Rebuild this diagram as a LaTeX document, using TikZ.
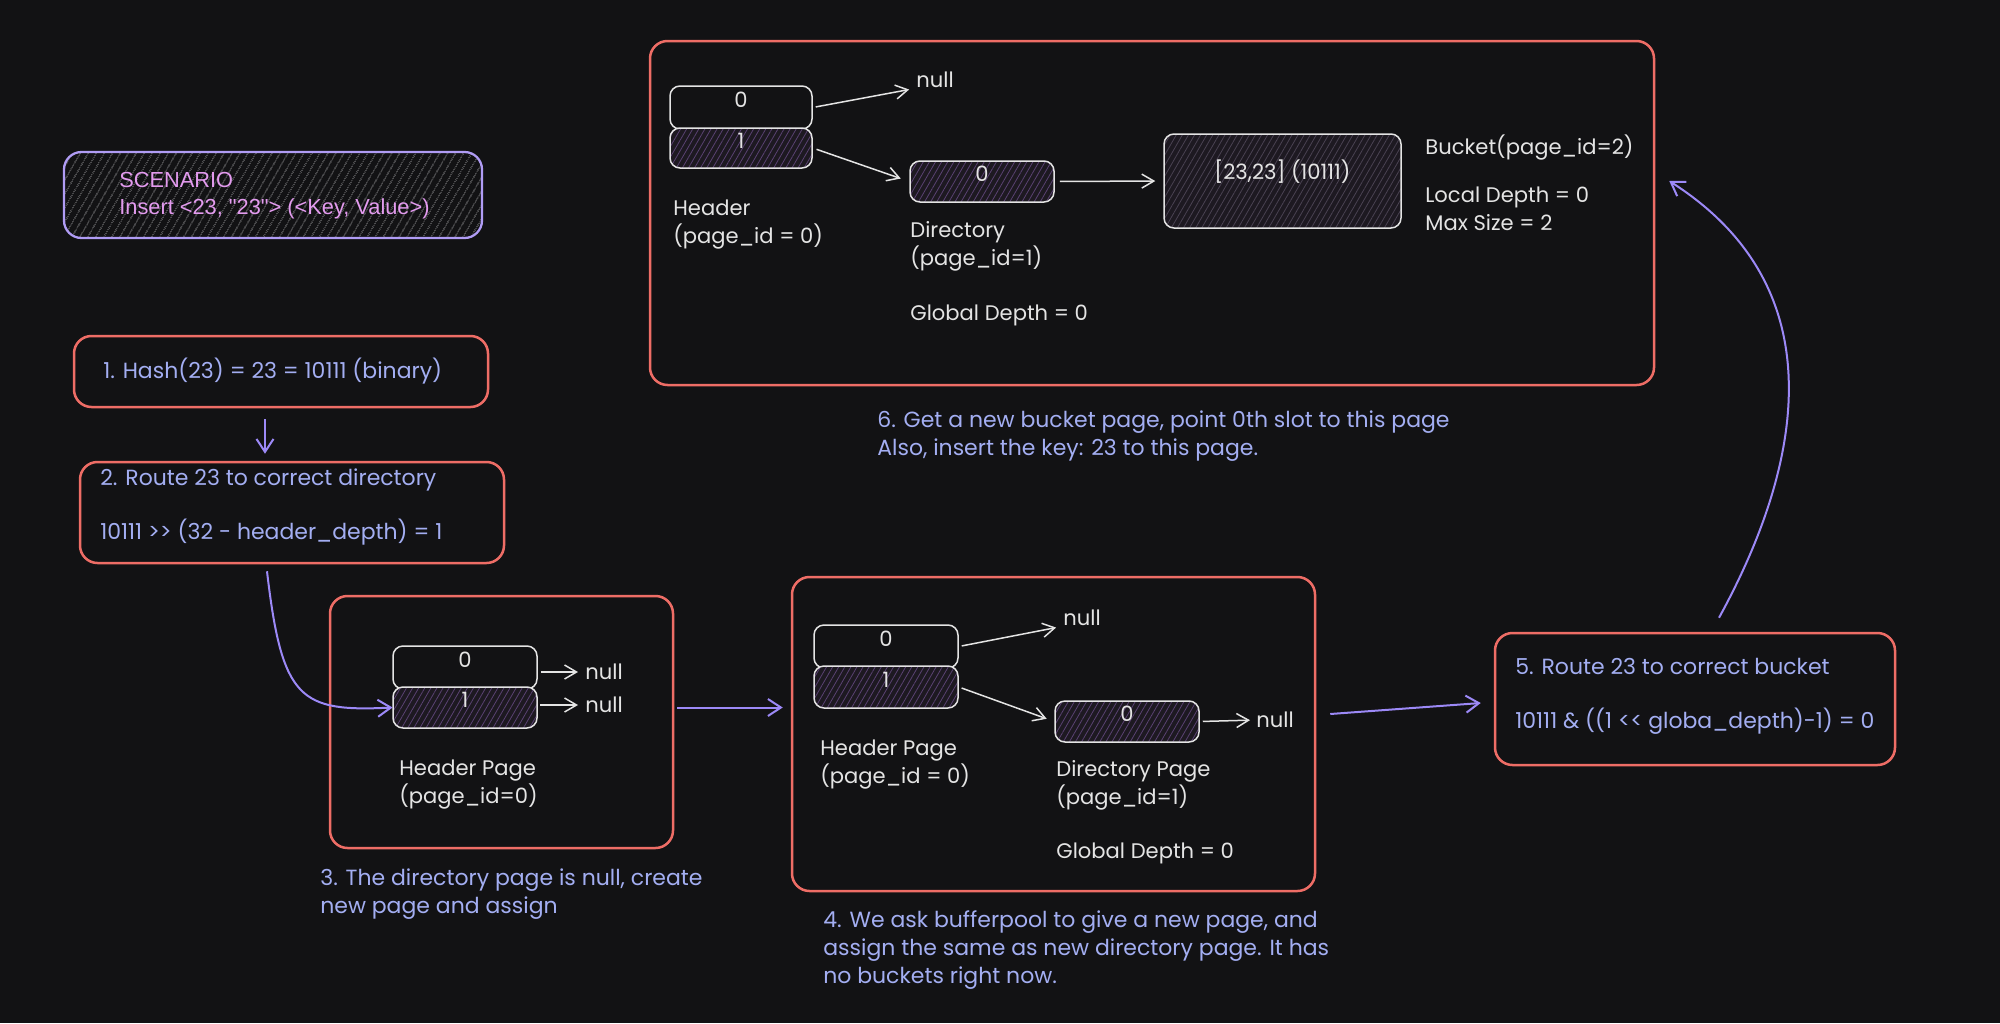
\documentclass[tikz,border=0pt]{standalone}
\usepackage{fontspec}
\setmainfont{Poppins}[Ligatures=TeXOff]
\newfontfamily\scenfont{Liberation Sans}
\usetikzlibrary{arrows.meta,patterns.meta,fit,calc}

\definecolor{bgc}{HTML}{121214}
\definecolor{redc}{HTML}{EE6D66}
\definecolor{violetc}{HTML}{9C89F7}
\definecolor{scenline}{HTML}{B09CF5}
\definecolor{scentxt}{HTML}{E39BEF}
\definecolor{bluec}{HTML}{A3AEF2}
\definecolor{whitec}{HTML}{E4E4E4}
\definecolor{cellbg}{HTML}{1D1921}
\definecolor{hatchc}{HTML}{5A4272}
\definecolor{bkhatch}{HTML}{4A4252}
\definecolor{scenhatch}{HTML}{1F1F22}

\begin{document}
\begin{tikzpicture}[x=0.2mm, y=-0.2mm, font={\fontsize{12}{15.9}\selectfont},
    redbox/.style={draw=redc, line width=0.5mm, rounded corners=3.5mm, inner sep=0pt},
    scenbox/.style={draw=scenline, line width=0.45mm, rounded corners=3.5mm, inner sep=0pt,
        preaction={fill=bgc}, pattern={Lines[angle=60,distance=4pt,line width=0.4pt]}, pattern color=scenhatch},
    cell/.style={draw=whitec, line width=0.3mm, rounded corners=2mm, inner sep=0pt, text=whitec},
    hatched/.style={cell, preaction={fill=cellbg}, pattern={Lines[angle=60,distance=3pt,line width=0.45pt]}, pattern color=hatchc},
    note/.style={text=bluec, anchor=west, align=left, inner sep=0pt, font={\fontsize{12.5}{15.9}\selectfont}},
    lbl/.style={text=whitec, anchor=west, align=left, inner sep=0pt},
    flow/.style={draw=violetc, line width=0.4mm, -{Straight Barb[length=2.6mm,width=3.4mm]}},
    link/.style={draw=whitec, line width=0.3mm, -{Straight Barb[length=2.4mm,width=2.8mm]}}]

    \def\gap{14.8pt}

    \fill[bgc] (0,0) rectangle (2000,1023);
    \useasboundingbox (0,0) rectangle (2000,1023);

    % scenario
    \node[scenbox, fit={(64,152) (482,238)}] (scen) {};
    \node[text=scentxt, anchor=west, align=left, inner sep=0pt, font={\scenfont\fontsize{12.4}{15.4}\selectfont}]
        (scenlbl) at (119,196) {SCENARIO\\Insert <23, "23"> (<Key, Value>)};

    % steps 1 and 2
    \node[redbox, fit={(74,336) (488,407)}] (b1) {};
    \node[note] (s1) at (103,371) {1. Hash(23) = 23 = 10111 (binary)};
    \node[redbox, fit={(80,462) (504,563)}] (b2) {};
    \node[note] (s2) at (100,507) {2. Route 23 to correct directory\\[\gap]10111 >> (32 - header\_depth) = 1};

    % step 3 box
    \node[redbox, fit={(330,596) (673,848)}] (b3) {};
    \node[cell, fit={(393,646) (537,689)}] (mh0) {0};
    \node[hatched, fit={(393,687) (537,728)}] (mh1) {1};
    \node[lbl] (mnull0) at (585,672) {null};
    \node[lbl] (mnull1) at (585,705) {null};
    \node[lbl] (mhdr) at (399,785) {Header Page\\(page\_id=0)};
    \node[note] (s3) at (320,894) {3. The directory page is null, create\\new page and assign};

    \draw[link, shorten <=0.6mm, shorten >=1.4mm] (mh0.east |- mnull0.west) -- (mnull0.west);
    \draw[link, shorten <=0.6mm, shorten >=1.4mm] (mh1.east |- mnull1.west) -- (mnull1.west);

    % step 4 box
    \node[redbox, fit={(792,577) (1315,891)}] (b4) {};
    \node[cell, fit={(814,625) (958,668)}] (rh0) {0};
    \node[hatched, fit={(814,666) (958,708)}] (rh1) {1};
    \node[lbl] (rnull0) at (1063,618) {null};
    \node[hatched, fit={(1055,701) (1199,742)}] (rdir) {0};
    \node[lbl] (rnull1) at (1256,720) {null};
    \node[lbl] (rhdr) at (820,765) {Header Page\\(page\_id = 0)};
    \node[lbl] (rdirlbl) at (1056,785) {Directory Page\\(page\_id=1)};
    \node[lbl] (rgd) at (1056,853) {Global Depth = 0};
    \node[note] (s4) at (823,950) {4. We ask bufferpool to give a new page, and\\assign the same as new directory page. It has\\no buckets right now.};

    \draw[link, shorten <=0.6mm, shorten >=1.4mm] (rh0.east) -- (rnull0.south west);
    \draw[link, shorten <=0.6mm, shorten >=1.6mm] (rh1.east) -- (rdir.west);
    \draw[link, shorten <=0.6mm, shorten >=1.2mm] (rdir.east) -- (rnull1.west);

    % step 5 box
    \node[redbox, fit={(1495,633) (1895,765)}] (b5) {};
    \node[note] (s5) at (1515,696) {5. Route 23 to correct bucket\\[\gap]10111 \& ((1 << globa\_depth)-1) = 0};

    % step 6 box
    \node[redbox, fit={(650,41) (1654,385)}] (b6) {};
    \node[cell, fit={(670,86) (812,129)}] (th0) {0};
    \node[hatched, fit={(670,128) (812,168)}] (th1) {1};
    \node[lbl] (tnull) at (916,80) {null};
    \node[hatched, fit={(910,161) (1054,202)}] (tdir) {0};
    \node[hatched, pattern color=bkhatch, fit={(1164,134) (1401,228)}] (tbkt) {[23,23] (10111)};
    \node[lbl] (tbktlbl) at (1425,147) {Bucket(page\_id=2)};
    \node[lbl] (tdepth) at (1425,209) {Local Depth = 0\\Max Size = 2};
    \node[lbl] (thdr) at (673,225) {Header\\(page\_id = 0)};
    \node[lbl] (tdirlbl) at (910,246) {Directory\\(page\_id=1)};
    \node[lbl] (tgd) at (910,315) {Global Depth = 0};
    \node[note] (s6) at (877,436) {6. Get a new bucket page, point 0th slot to this page\\Also, insert the key: 23 to this page.};

    \draw[link, shorten <=0.6mm, shorten >=1.4mm] (th0.east) -- (tnull.south west);
    \draw[link, shorten <=0.8mm, shorten >=1.8mm] (th1.east) -- (tdir.west);
    \draw[link, shorten <=1mm, shorten >=1.6mm] (tdir.east) -- (tbkt.west);

    % flow arrows
    \draw[flow] ($(b1.south)+(-16,11)$) -- ($(b2.north)+(-27,-7)$);
    \draw[flow] ($(b2.south)+(-25,7)$) .. controls (282,700) and (300,712) .. (mh1.west);
    \draw[flow, shorten <=0.6mm, shorten >=1.6mm] (b3.east |- mh1) -- (b4.west |- mh1);
    \draw[flow] ($(b4.east)+(14,-20)$) -- ($(b5.west)+(-13,4)$);
    \draw[flow] ($(b5.north)+(24,-14)$) .. controls (1800,470) and (1840,290) .. ($(b6.east)+(14,-32)$);

\end{tikzpicture}
\end{document}
